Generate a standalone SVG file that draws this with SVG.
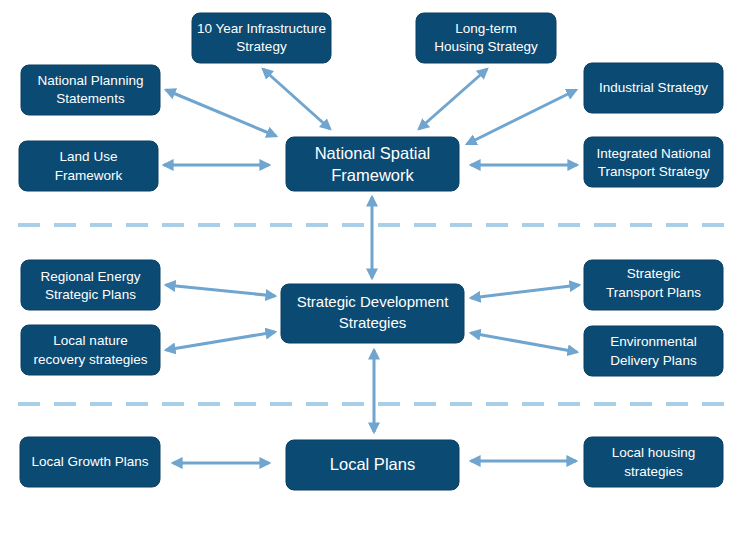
<svg xmlns="http://www.w3.org/2000/svg" width="745" height="559" viewBox="0 0 745 559">
<style>
.n{fill:#0b4a73;stroke:#0a3f63;stroke-width:1}
.t{fill:#fff;font-family:"Liberation Sans",Arial,sans-serif;font-size:13.5px;text-anchor:middle}
.b{font-size:16.5px}
.c line{stroke:#6fa5cf;stroke-width:3;marker-start:url(#a);marker-end:url(#a)}
.d{stroke:#a9cfe8;stroke-width:4;stroke-dasharray:22,14}
</style>
<defs><marker id="a" viewBox="0 0 10 10" refX="8" refY="5" markerWidth="4" markerHeight="4" orient="auto-start-reverse"><path d="M0,0L10,5L0,10z" fill="#6fa5cf"/></marker></defs>
<rect width="745" height="559" fill="#fff"/>
<line class="d" x1="18" y1="225" x2="727" y2="225"/>
<line class="d" x1="18" y1="404" x2="727" y2="404"/>
<g id="n1"><rect class="n" x="192" y="13" width="139" height="50" rx="8"/><text class="t" x="261.5" y="33">10 Year Infrastructure</text><text class="t" x="261.5" y="51">Strategy</text></g>
<g id="n2"><rect class="n" x="416" y="13" width="140" height="50" rx="8"/><text class="t" x="486" y="33">Long-term</text><text class="t" x="486" y="51">Housing Strategy</text></g>
<g id="n3"><rect class="n" x="21" y="65" width="139" height="50" rx="8"/><text class="t" x="90.5" y="85">National Planning</text><text class="t" x="90.5" y="103">Statements</text></g>
<g id="n4"><rect class="n" x="584" y="63" width="139" height="50" rx="8"/><text class="t" x="653.5" y="92">Industrial Strategy</text></g>
<g id="n5"><rect class="n" x="19" y="141" width="139" height="50" rx="8"/><text class="t" x="88.5" y="161">Land Use</text><text class="t" x="88.5" y="180">Framework</text></g>
<g id="n6"><rect class="n" x="286" y="137" width="173" height="54" rx="8"/><text class="t b" x="372.5" y="159">National Spatial</text><text class="t b" x="372.5" y="181">Framework</text></g>
<g id="n7"><rect class="n" x="584" y="137" width="139" height="50" rx="8"/><text class="t" x="653.5" y="158">Integrated National</text><text class="t" x="653.5" y="176">Transport Strategy</text></g>
<g id="n8"><rect class="n" x="21" y="260" width="139" height="50" rx="8"/><text class="t" x="90.5" y="281">Regional Energy</text><text class="t" x="90.5" y="299">Strategic Plans</text></g>
<g id="n9"><rect class="n" x="281" y="284" width="183" height="59" rx="8"/><text class="t" style="font-size:15px" x="372.5" y="307">Strategic Development</text><text class="t" style="font-size:15px" x="372.5" y="328">Strategies</text></g>
<g id="n10"><rect class="n" x="584" y="260" width="139" height="50" rx="8"/><text class="t" x="653.5" y="278">Strategic</text><text class="t" x="653.5" y="297">Transport Plans</text></g>
<g id="n11"><rect class="n" x="21" y="325" width="139" height="50" rx="8"/><text class="t" x="90.5" y="345">Local nature</text><text class="t" x="90.5" y="364">recovery strategies</text></g>
<g id="n12"><rect class="n" x="584" y="326" width="139" height="50" rx="8"/><text class="t" x="653.5" y="346">Environmental</text><text class="t" x="653.5" y="365">Delivery Plans</text></g>
<g id="n13"><rect class="n" x="20" y="437" width="140" height="50" rx="8"/><text class="t" x="90" y="466">Local Growth Plans</text></g>
<g id="n14"><rect class="n" x="286" y="440" width="173" height="50" rx="8"/><text class="t b" x="372.5" y="470">Local Plans</text></g>
<g id="n15"><rect class="n" x="584" y="437" width="139" height="50" rx="8"/><text class="t" x="653.5" y="457">Local housing</text><text class="t" x="653.5" y="476">strategies</text></g>
<g class="c" id="connectors">
<line x1="166" y1="90" x2="276" y2="136"/>
<line x1="263" y1="69" x2="330" y2="129"/>
<line x1="487" y1="69" x2="419" y2="129"/>
<line x1="576" y1="90" x2="467" y2="144"/>
<line x1="164" y1="165" x2="269" y2="165"/>
<line x1="577" y1="165" x2="471" y2="165"/>
<line x1="372" y1="197" x2="372" y2="278"/>
<line x1="166" y1="285" x2="275" y2="296"/>
<line x1="579" y1="285" x2="471" y2="298"/>
<line x1="166" y1="350" x2="275" y2="332"/>
<line x1="577" y1="352" x2="471" y2="333"/>
<line x1="374" y1="350" x2="374" y2="432"/>
<line x1="173" y1="463" x2="269" y2="463"/>
<line x1="576" y1="461" x2="471" y2="461"/>
</g>
</svg>
